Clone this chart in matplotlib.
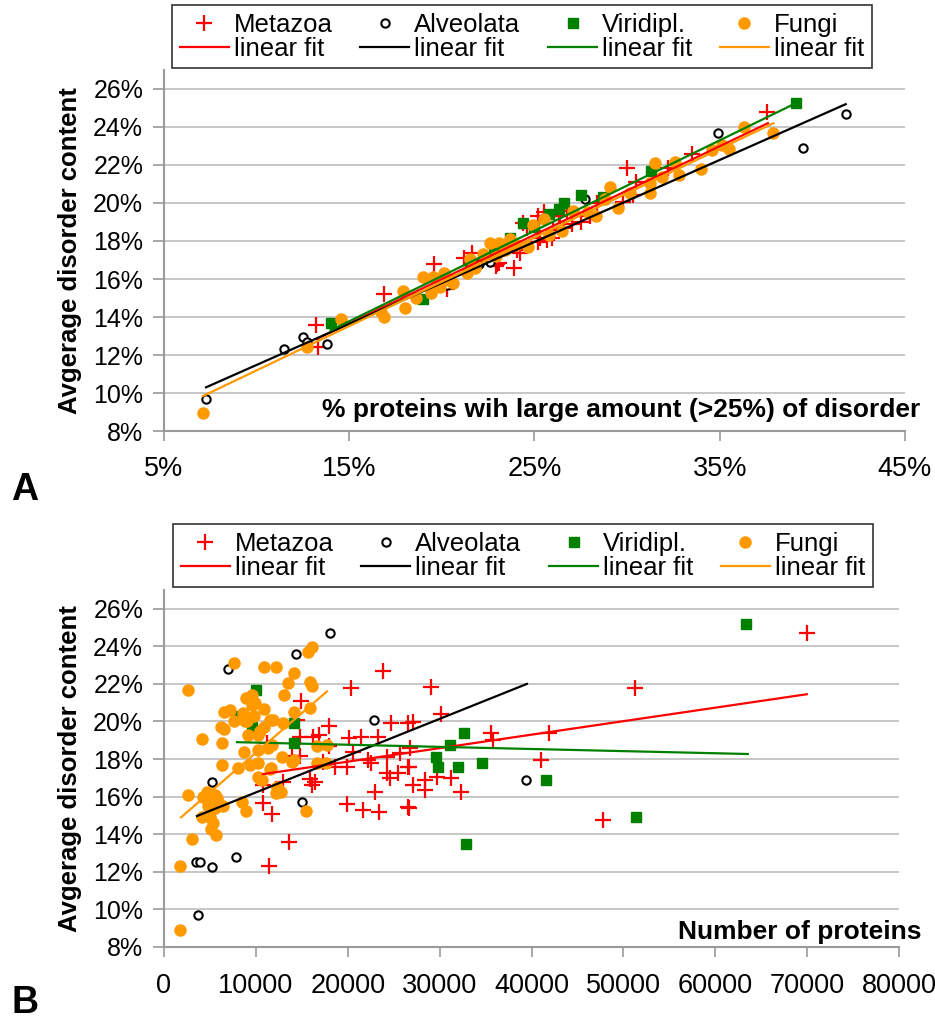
import numpy as np
import matplotlib
matplotlib.use("Agg")
import matplotlib.pyplot as plt
from matplotlib.ticker import PercentFormatter, MultipleLocator

plt.rcParams['font.family'] = ['Liberation Sans', 'DejaVu Sans']

RED, BLACK, GREEN, ORANGE = '#FF0000', '#000000', '#008000', '#FF9900'
names = ['Metazoa', 'Alveolata', 'Viridipl.', 'Fungi']

# ---- panel A: % proteins with >25% disorder vs average disorder (both in %)
a_meta_x = [13.2, 13.3, 16.9, 19.6, 20.3, 21.2, 21.6, 22.9, 23.0, 23.1, 23.9, 24.05, 24.2,
            24.4, 24.6, 25.2, 25.2, 25.3, 25.5, 25.5, 25.7, 25.95, 26.0, 26.3, 26.4, 26.6,
            26.75, 27.0, 27.5, 28.0, 28.0, 28.4, 29.8, 30.0, 30.3, 30.5, 32.2, 33.5, 37.55]
a_meta_y = [13.6, 12.4, 15.2, 16.8, 15.5, 17.1, 17.35, 16.7, 16.8, 16.85, 16.6, 17.5, 17.35,
            18.95, 18.7, 19.3, 17.95, 18.15, 19.3, 19.5, 18.05, 18.15, 18.6, 19.3, 19.3, 18.7,
            19.6, 18.9, 19.0, 19.35, 19.3, 20.0, 20.05, 21.85, 20.4, 21.1, 21.85, 22.6, 24.8]
a_alv_x = [7.27, 11.5, 12.5, 12.7, 13.8, 20.3, 22.0, 22.6, 27.7, 34.9, 39.5, 41.8]
a_alv_y = [9.7, 12.3, 12.95, 12.7, 12.6, 15.7, 16.8, 16.9, 20.2, 23.7, 22.9, 24.7]
a_vir_x = [14.0, 19.0, 21.5, 22.8, 23.1, 23.4, 23.7, 24.4, 25.0, 25.8, 26.3, 26.6, 27.5,
           28.7, 31.3, 39.1]
a_vir_y = [13.7, 14.95, 16.9, 17.6, 17.6, 17.8, 18.15, 18.95, 18.75, 19.4, 19.7, 20.0, 20.4,
           20.3, 21.7, 25.25]
a_fun_x = [7.1, 12.7, 14.55, 16.7, 16.9, 17.9, 18.0, 18.6, 19.0, 19.4, 19.5, 19.9, 20.1,
           20.4, 20.6, 21.35, 21.5, 21.8, 22.2, 22.6, 22.9, 23.1, 23.4, 23.7, 24.0, 24.65,
           24.9, 25.5, 25.8, 26.5, 27.1, 27.9, 28.3, 28.8, 29.1, 29.5, 30.15, 31.25, 31.25,
           31.5, 31.9, 32.6, 32.8, 34.0, 34.6, 35.1, 35.5, 36.3, 37.9]
a_fun_y = [8.95, 12.4, 13.9, 14.25, 14.0, 15.35, 14.5, 15.0, 16.1, 15.25, 16.1, 15.6, 16.3,
           15.95, 15.8, 16.3, 17.05, 16.6, 17.3, 17.9, 17.2, 17.9, 17.5, 18.1, 17.8, 17.7,
           18.85, 19.15, 18.3, 18.5, 19.6, 19.5, 19.3, 20.2, 20.85, 19.75, 20.5, 21.05, 20.5,
           22.1, 21.35, 22.15, 21.45, 21.8, 22.8, 23.05, 22.85, 24.0, 23.7]
# trend lines: (x_start, x_end), (y_start, y_end)
a_fits = {
    'Metazoa': ([13.25, 37.6], [12.85, 24.2]),
    'Alveolata': ([7.27, 41.8], [10.3, 25.2]),
    'Viridipl.': ([14.0, 39.1], [13.3, 25.25]),
    'Fungi': ([7.1, 37.9], [9.84, 24.2]),
}
a_xticks = [5, 15, 25, 35, 45]

# ---- panel B: number of proteins vs average disorder
b_meta_x = [23830, 20350, 14900, 17950, 14470, 24700, 16210, 16860, 14800, 20130, 21430, 23280,
            26550, 17950, 11200, 13930, 14800, 17300, 18600, 19910, 20560, 22200, 22520, 24260,
            25680, 26550, 24260, 24590, 25460, 22960, 15890, 16430, 16100, 12950, 10770, 10770,
            11750, 19910, 21650, 23390, 26550, 13600, 11420, 29050, 30140, 27090, 35580, 35800,
            41890, 41020, 26770, 26660, 28400, 29700, 31230, 27090, 28400, 32310, 26660, 47760,
            51240, 69960]
b_meta_y = [22.7, 21.8, 21.1, 19.75, 20.1, 19.9, 19.2, 19.3, 19.2, 19.1, 19.2, 19.2,
            19.9, 18.7, 18.85, 18.15, 18.15, 17.85, 17.6, 17.6, 18.4, 17.95, 17.8, 18.1,
            18.3, 17.6, 17.25, 17.0, 17.25, 16.25, 16.95, 16.8, 16.6, 16.8, 16.6, 15.65,
            15.1, 15.6, 15.3, 15.2, 15.45, 13.6, 12.3, 21.85, 20.4, 19.95, 19.4, 19.0,
            19.4, 17.95, 18.6, 17.6, 16.9, 17.05, 17.0, 16.6, 16.35, 16.25, 15.4, 14.75,
            21.8, 24.7]
b_alv_x = [18060, 14360, 6960, 22850, 5220, 15010, 7830, 3480, 3920, 5220, 3700, 39400]
b_alv_y = [24.7, 23.6, 22.8, 20.1, 16.8, 15.7, 12.8, 12.5, 12.5, 12.25, 9.7, 16.9]
b_vir_x = [10000, 7830, 9600, 14140, 14140, 32640, 31120, 29600, 29810, 32000, 34600, 41560,
           32860, 51350, 63320]
b_vir_y = [21.7, 20.3, 19.7, 19.9, 18.85, 19.4, 18.75, 18.1, 17.6, 17.6, 17.8, 16.9,
           13.5, 14.9, 25.2]
b_fun_x = [2610, 7620, 10880, 12190, 14140, 15670, 16100, 13490, 15890, 16100, 13060, 8920,
           9570, 9570, 9900, 10880, 6530, 7180, 8600, 7620, 8800, 9000, 9790, 10880, 11530,
           11850, 14140, 15890, 12950, 6200, 6530, 9140, 10230, 10450, 4130, 6310, 11750,
           11310, 10230, 8700, 12840, 14140, 9350, 10230, 8050, 6310, 10230, 10450, 12300,
           12730, 12190, 11640, 4680, 4240, 2610, 5550, 4790, 5770, 4680, 5770, 4790, 5550,
           6420, 8490, 8920, 15450, 4130, 5000, 5330, 5110, 5660, 3050, 1740, 1740, 16650,
           17630, 17740, 16650, 13930, 11530, 10660]
b_fun_y = [21.7, 23.1, 22.9, 22.9, 22.6, 23.7, 23.95, 22.05, 22.1, 21.9, 21.4, 21.25,
           21.4, 20.9, 21.0, 20.65, 20.5, 20.6, 20.45, 20.0, 20.0, 20.05, 20.3, 19.7, 20.1,
           20.1, 20.5, 20.7, 19.9, 19.7, 19.6, 19.3, 19.3, 19.5, 19.05, 18.85, 18.75,
           18.6, 18.5, 18.4, 18.1, 17.95, 17.7, 17.8, 17.55, 17.7, 17.05, 16.95, 16.5,
           16.25, 16.2, 17.5, 16.25, 16.0, 16.1, 16.1, 16.2, 15.95, 15.85, 15.8, 15.5, 15.4,
           15.5, 15.7, 15.25, 15.25, 14.9, 14.9, 14.6, 14.3, 13.95, 13.75, 12.3, 8.9, 17.8,
           17.8, 18.75, 18.7, 17.85, 17.45, 16.9]
b_fits = {
    'Metazoa': ([10770, 69960], [17.2, 21.45]),
    'Alveolata': ([3590, 39500], [14.97, 22.0]),
    'Viridipl.': ([7940, 63540], [18.9, 18.27]),
    'Fungi': ([1850, 17740], [14.9, 21.6]),
}

styles = {
    'Metazoa': dict(marker='+', color=RED, ms=11.5, mew=1.6, ls='none'),
    'Alveolata': dict(marker='o', mfc='white', mec=BLACK, ms=6, mew=1.5, ls='none'),
    'Viridipl.': dict(marker='s', color=GREEN, ms=6.5, ls='none'),
    'Fungi': dict(marker='o', color=ORANGE, ms=8, mec=ORANGE, ls='none'),
}
line_col = {'Metazoa': RED, 'Alveolata': BLACK, 'Viridipl.': GREEN, 'Fungi': ORANGE}

fig = plt.figure(figsize=(9.35, 10.26), dpi=100)
axA = fig.add_axes([0.1754, 0.5799, 0.7925, 0.3519])
axB = fig.add_axes([0.1754, 0.0770, 0.7861, 0.3480])


def draw(ax, pts, fits, leg_xy, xpad):
    handles = []
    for name, (xs, ys) in zip(names, pts):
        h, = ax.plot(xs, ys, label=name, zorder=3, **styles[name])
        fx, fy = fits[name]
        l, = ax.plot(fx, fy, color=line_col[name], lw=1.6, zorder=4, label='linear fit')
        handles += [h, l]
    ax.set_ylim(8, 27)
    ax.yaxis.set_major_locator(MultipleLocator(2))
    ax.yaxis.set_major_formatter(PercentFormatter(decimals=0))
    ax.yaxis.grid(True, color='#BDBDBD', lw=1.2)
    ax.set_axisbelow(True)
    for s in ['top', 'right']:
        ax.spines[s].set_visible(False)
    for s in ['left', 'bottom']:
        ax.spines[s].set_color('#9A9A9A')
        ax.spines[s].set_linewidth(1.5)
    ax.tick_params(axis='y', length=8, width=1.2, color='#9A9A9A', labelsize=18, pad=7)
    ax.tick_params(axis='x', length=7, width=1.2, color='#9A9A9A', labelsize=19.5, pad=xpad)
    ax.set_ylabel('Avgerage disorder content', fontsize=18.5, fontweight='bold', labelpad=8)
    leg = ax.legend(handles, [h.get_label() for h in handles], ncol=4, fontsize=18.5,
                    loc='upper left', bbox_to_anchor=leg_xy, bbox_transform=fig.transFigure,
                    frameon=True, fancybox=False, edgecolor='black', handlelength=1.9,
                    handletextpad=0.2, columnspacing=1.08, labelspacing=0.0,
                    borderpad=0.3, borderaxespad=0)
    leg.get_frame().set_linewidth(1.2)


draw(axA, [(a_meta_x, a_meta_y), (a_alv_x, a_alv_y), (a_vir_x, a_vir_y), (a_fun_x, a_fun_y)],
     a_fits, (172 / 935, 1 - 5 / 1026), 11)
axA.set_xlim(5, 45)
axA.set_xticks(a_xticks)
axA.xaxis.set_major_formatter(PercentFormatter(decimals=0))
axA.text(1.02, 0.058, '% proteins wih large amount (>25%) of disorder', transform=axA.transAxes,
         ha='right', va='center', fontsize=19, fontweight='bold')

draw(axB, [(b_meta_x, b_meta_y), (b_alv_x, b_alv_y), (b_vir_x, b_vir_y), (b_fun_x, b_fun_y)],
     b_fits, (173 / 935, 1 - 524 / 1026), 12)
axB.set_xlim(0, 80000)
axB.xaxis.set_major_locator(MultipleLocator(10000))
axB.text(1.03, 0.042, 'Number of proteins', transform=axB.transAxes,
         ha='right', va='center', fontsize=19, fontweight='bold')

fig.text(25 / 935, 1 - 490 / 1026, 'A', fontsize=27, fontweight='bold', ha='center', va='center')
fig.text(25 / 935, 1 - 1003 / 1026, 'B', fontsize=27, fontweight='bold', ha='center', va='center')

fig.savefig('out.png', dpi=100)
